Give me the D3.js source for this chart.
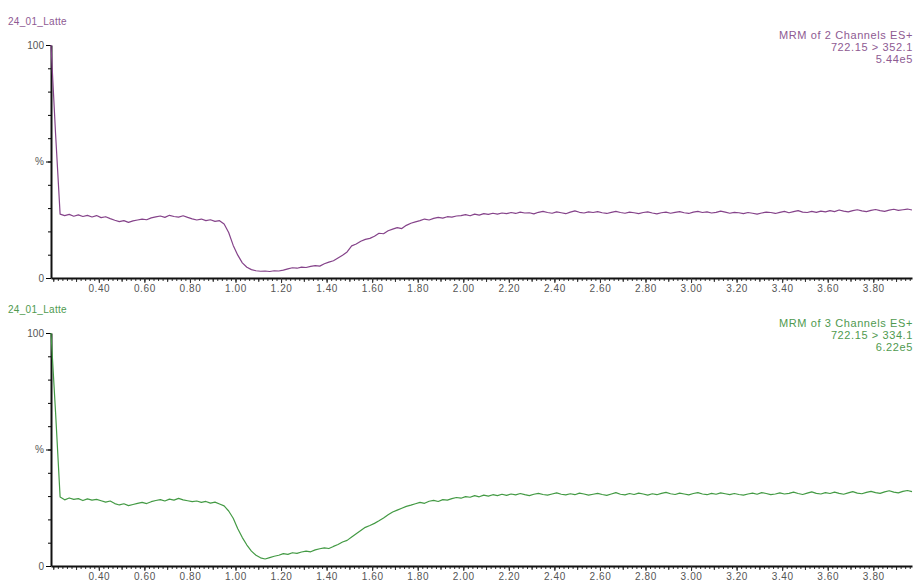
<!DOCTYPE html>
<html>
<head>
<meta charset="utf-8">
<script src="https://cdn.jsdelivr.net/npm/d3@7"></script>
<style>
    body { margin: 0; background: #fff; }
    svg { display: block; font-family: "Liberation Sans", Arial, sans-serif; }
</style>
</head>
<body>
<svg id="chart" width="915" height="585"></svg>
<script>
/*
    Two MRM chromatogram traces (relative intensity vs retention time, min)
*/

// Scan grid of the traces (minutes)
const scanStart = 0.19;
const scanStep = 0.02;

const sampleName = "24_01_Latte";
const xTickValues = [0.4, 0.6, 0.8, 1.0, 1.2, 1.4, 1.6, 1.8, 2.0, 2.2,
    2.4, 2.6, 2.8, 3.0, 3.2, 3.4, 3.6, 3.8];
const yTickValues = [0, 50, 100];
const yTickLabels = ["0", "%", "100"];

const topInfo = ["MRM of 2 Channels ES+", "722.15 > 352.1", "5.44e5"];
const bottomInfo = ["MRM of 3 Channels ES+", "722.15 > 334.1", "6.22e5"];

// Relative intensity (%), one value per scan step
const topTrace = [
    100, 62, 27.4, 26.8, 27.3, 26.5, 27.1, 26.4, 26.9, 26.2,
    26.8, 25.9, 26.3, 25.5, 24.8, 24.2, 24.6, 23.9, 24.5, 24.9,
    25.3, 25.0, 25.8, 26.2, 26.6, 26.0, 26.9, 26.4, 26.1, 26.7,
    26.0, 25.4, 24.9, 25.3, 24.6, 25.0, 24.3, 24.6, 23.2, 19.5,
    14.0, 9.8, 6.5, 4.6, 3.6, 3.1, 2.9, 3.0, 2.8, 3.1,
    3.0, 3.4, 3.9, 4.4, 4.2, 4.7, 4.5, 5.0, 5.3, 5.1,
    6.1, 6.8, 7.4, 8.6, 9.8, 11.2, 13.8, 14.6, 15.8, 16.6,
    17.0, 17.9, 19.2, 19.0, 20.3, 21.0, 21.6, 21.2, 22.6, 23.5,
    24.1, 24.6, 25.3, 24.9, 25.6, 26.0, 25.7, 26.3, 26.1, 26.6,
    26.8, 27.2, 26.7, 27.4, 27.0, 27.6, 27.3, 27.8, 27.4, 27.9,
    27.6, 28.1, 27.7, 28.3, 27.9, 28.0, 27.5, 28.2, 28.6, 28.1,
    27.8, 28.4, 28.0, 27.6, 28.3, 28.8, 28.2, 27.9, 28.4, 28.1,
    28.5, 28.0, 27.7, 28.2, 28.6, 28.1, 27.8, 28.3, 28.0, 27.6,
    28.1, 28.4, 27.9, 27.5, 28.0, 28.3, 27.8, 28.2, 28.5, 28.0,
    27.7, 28.3, 28.6, 28.1, 28.4, 27.9, 28.2, 28.7, 28.3, 27.8,
    28.2, 28.0, 27.6, 28.1, 27.8, 27.4, 27.9, 28.3, 28.1, 27.7,
    28.2, 28.6, 28.0, 28.5, 28.9, 28.3, 28.1, 28.6, 28.2, 28.7,
    28.4, 28.9, 28.5, 29.2, 28.7, 28.4, 28.9, 29.3, 28.8, 28.5,
    29.0, 29.4, 28.9, 28.6, 29.1, 29.5, 29.0, 29.3, 29.6, 29.2
];

// Relative intensity (%)
const bottomTrace = [
    100, 66, 29.6, 28.4, 29.2, 28.6, 28.9, 28.1, 28.8, 28.3,
    28.6, 28.0, 27.4, 27.9, 26.8, 26.2, 26.7, 25.9, 26.4, 26.9,
    27.3, 26.8, 27.6, 28.1, 28.5, 27.9, 28.7, 28.3, 29.0, 28.4,
    28.0, 27.6, 27.9, 27.3, 27.7, 27.0, 27.4, 26.6, 25.8, 23.6,
    20.5, 16.0, 12.2, 9.0, 6.4, 4.6, 3.5, 3.0, 3.6, 4.2,
    4.6, 5.3, 5.0, 5.7, 5.4, 6.0, 6.4, 6.1, 6.9, 7.4,
    7.8, 7.5, 8.4, 9.2, 10.3, 11.0, 12.4, 13.8, 15.2, 16.6,
    17.4, 18.3, 19.4, 20.6, 22.0, 23.2, 24.0, 24.8, 25.6, 26.1,
    26.7, 27.3, 26.9, 27.8, 28.2, 27.7, 28.5, 28.3, 28.9, 29.4,
    29.1, 29.8, 29.5, 30.2, 29.7, 30.4, 30.0, 30.6, 30.2, 30.8,
    30.3, 30.9, 30.5, 31.1, 30.6, 30.2, 30.8, 31.2, 30.7, 30.4,
    30.9, 31.4, 30.8, 30.5, 31.0, 30.6, 31.3, 30.9, 30.4, 30.8,
    31.2, 30.7, 30.3, 30.9, 31.5, 30.8, 30.5, 31.1, 30.7, 31.3,
    30.9, 30.4, 31.0, 30.6, 31.2, 31.6, 31.0, 30.7, 31.3, 30.9,
    30.5, 31.1, 31.5, 30.9, 30.6, 31.2, 30.8, 31.4, 31.0, 30.6,
    31.1, 30.7, 30.4, 30.9, 31.3, 30.8, 31.5, 31.1, 30.6, 30.9,
    31.4, 30.9, 31.2, 31.7, 31.1, 30.7, 31.3, 31.8, 31.2, 30.9,
    31.5, 31.1, 31.7, 31.2, 30.8, 31.4, 31.9, 31.3, 31.0, 31.6,
    32.0, 31.5, 31.2, 31.8, 32.3, 31.7, 31.4, 32.0, 32.4, 31.9
];

const width = 915;
const panelHeight = 233;
const margin = { left: 51, right: 3 };

const svg = d3.select("#chart");

const x = d3
    .scaleLinear()
    .domain([0.19, 3.97])
    .range([margin.left, width - margin.right]);

const y = d3.scaleLinear().domain([0, 100]).range([panelHeight, 0]);

function drawPanel(top, trace, info, lineColor, textColor) {
    const g = svg.append("g").attr("transform", `translate(0,${top})`);

    // Sample name
    g.append("text")
        .attr("x", 8)
        .attr("y", -20)
        .attr("font-size", 10)
        .attr("letter-spacing", "0.3px")
        .attr("fill", textColor)
        .text(sampleName);

    // Channel info, right aligned
    g.selectAll(".info")
        .data(info)
        .join("text")
        .attr("class", "info")
        .attr("x", 913)
        .attr("y", (d, i) => -6 + i * 12)
        .attr("text-anchor", "end")
        .attr("font-size", 11)
        .attr("letter-spacing", "0.6px")
        .attr("fill", textColor)
        .text((d) => d);

    // Minor x ticks
    g.append("g")
        .attr("transform", `translate(0,${panelHeight})`)
        .call(
            d3.axisBottom(x)
                .tickValues(d3.range(0.2, 3.97, 0.02))
                .tickSize(3)
                .tickFormat("")
        )
        .call((a) => a.select(".domain").remove());

    g.append("g")
        .attr("transform", `translate(0,${panelHeight})`)
        .call(
            d3.axisBottom(x)
                .tickValues(d3.range(0.2, 3.97, 0.1))
                .tickSize(4)
                .tickFormat("")
        )
        .call((a) => a.select(".domain").remove());

    // Major x ticks and labels
    const xAxis = g
        .append("g")
        .attr("transform", `translate(0,${panelHeight})`)
        .call(
            d3.axisBottom(x)
                .tickValues(xTickValues)
                .tickSize(5)
                .tickSizeOuter(0)
                .tickPadding(2)
                .tickFormat(d3.format(".2f"))
        );
    xAxis.select(".domain").attr("stroke", "#111").attr("stroke-width", 2);
    xAxis.selectAll("text")
        .attr("font-size", 10)
        .attr("letter-spacing", "0.6px")
        .attr("fill", "#555");
    g.selectAll(".tick line").attr("stroke", "#333");

    // y axis minor ticks
    g.append("g")
        .attr("transform", `translate(${margin.left},0)`)
        .call(d3.axisLeft(y).tickValues(d3.range(0, 101, 10)).tickSize(3).tickFormat(""))
        .call((a) => a.select(".domain").remove());

    const yAxis = g
        .append("g")
        .attr("transform", `translate(${margin.left},0)`)
        .call(
            d3.axisLeft(y)
                .tickValues(yTickValues)
                .tickSize(5)
                .tickSizeOuter(0)
                .tickPadding(2)
                .tickFormat((d, i) => yTickLabels[i])
        );
    yAxis.select(".domain").attr("stroke", "#111").attr("stroke-width", 2);
    yAxis.selectAll("text").attr("font-size", 10).attr("fill", "#555");

    // Trace
    const line = d3
        .line()
        .x((d, i) => x(scanStart + i * scanStep))
        .y((d) => y(d));

    g.append("path")
        .datum(trace)
        .attr("fill", "none")
        .attr("stroke", lineColor)
        .attr("stroke-width", 1.2)
        .attr("stroke-linejoin", "round")
        .attr("d", line);
}

drawPanel(45, topTrace, topInfo, "#85438a", "#8e5a92");
drawPanel(333, bottomTrace, bottomInfo, "#439a44", "#4f9a4f");
</script>
</body>
</html>
